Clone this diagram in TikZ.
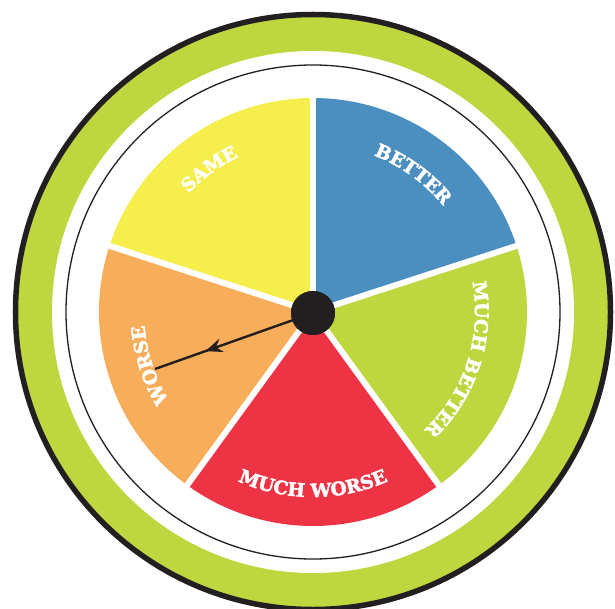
\documentclass[tikz,border=0pt]{standalone}
\usepackage{fontspec}
\newfontfamily\lblfamily[BoldFeatures={FakeBold=2.5}]{DejaVu Serif}
\usetikzlibrary{decorations.text,decorations.markings,arrows.meta}
\definecolor{cYellow}{HTML}{F6EE4C}
\definecolor{cBlue}{HTML}{4A8FBF}
\definecolor{cGreen}{HTML}{BED73E}
\definecolor{cRed}{HTML}{EE3444}
\definecolor{cOrange}{HTML}{F7AD59}
\definecolor{cDark}{HTML}{231F20}
\newcommand{\lblfmt}{\lblfamily\bfseries\fontsize{18.5}{18.5}\selectfont\color{white}}
\tikzset{
  wedgelabel/.style={decorate, decoration={text along path, text align=center, text={|\lblfmt|#1}}},
  separator/.style={draw=white, line width=6pt},
}
\begin{document}
\begin{tikzpicture}[x=1pt,y=1pt]
\useasboundingbox (-313,-296) rectangle (302,312);
% outer ring
\fill[cGreen] (0,0) circle (297);
\fill[white] (0,0) circle (261);
\draw[cDark, line width=5.5pt] (0,0) circle (297.5);
\draw[cDark, line width=1.3pt] (0,0) circle (247);
% wedges
\fill[cYellow] (0,0) -- (90:214) arc[start angle=90, end angle=162, radius=214] -- cycle;
\fill[cOrange] (0,0) -- (162:214) arc[start angle=162, end angle=234, radius=214] -- cycle;
\fill[cRed] (0,0) -- (234:214) arc[start angle=234, end angle=306, radius=214] -- cycle;
\fill[cGreen] (0,0) -- (306:214) arc[start angle=306, end angle=378, radius=214] -- cycle;
\fill[cBlue] (0,0) -- (18:214) arc[start angle=18, end angle=90, radius=214] -- cycle;
\foreach \a in {18,90,162,234,306} \draw[separator] (0,0) -- (\a:218);
% labels
\path[wedgelabel={SAME}] (166:172) arc[start angle=166, end angle=86, radius=172];
\path[wedgelabel={BETTER}] (94:168) arc[start angle=94, end angle=14, radius=168];
\path[wedgelabel={MUCH BETTER}] (30:162) arc[start angle=30, end angle=-66, radius=162];
\path[wedgelabel={MUCH WORSE}] (220:185) arc[start angle=220, end angle=320, radius=185];
\path[wedgelabel={WORSE}] (238:169) arc[start angle=238, end angle=158, radius=169];
% pointer
\coordinate (tip) at (-158,-57);
\node[circle, fill=cDark, minimum size=44pt, inner sep=0pt] (hub) at (0,-1) {};
\draw[cDark, line width=2.4pt,
  postaction={decorate, decoration={markings, mark=at position 0.68 with {\arrow{Stealth[length=17pt, width=14pt, inset=6pt]}}}}]
  (hub.center) -- (tip);
\node[circle, fill=cDark, minimum size=44pt, inner sep=0pt] at (hub) {};
\end{tikzpicture}
\end{document}
